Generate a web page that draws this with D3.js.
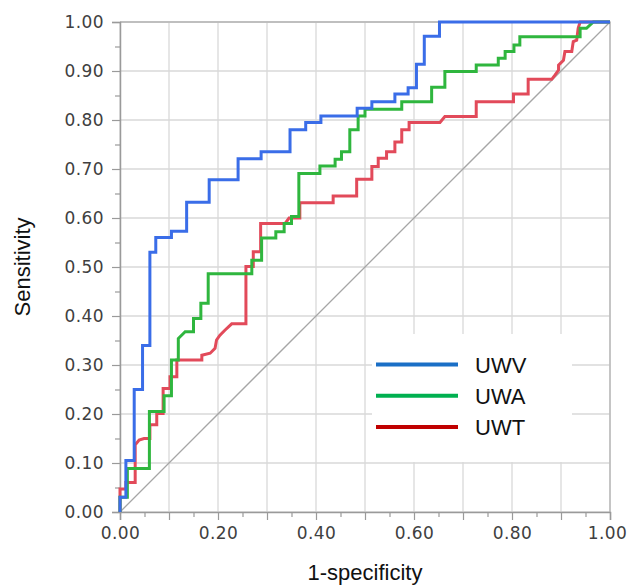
<!DOCTYPE html>
<html>
<head>
<meta charset="utf-8">
<script src="https://cdn.jsdelivr.net/npm/d3@7"></script>
<style>
  body { margin: 0; background: #fff; }
  svg { display: block; }
</style>
</head>
<body>
<div id="container"></div>
<script>
// ROC points (1-specificity, sensitivity)
let uwvX = [0, 0, 0.012, 0.012, 0.029, 0.029, 0.046, 0.046, 0.061, 0.061, 0.073, 0.073, 0.105, 0.105, 0.136, 0.136, 0.182, 0.182, 0.241, 0.241, 0.288, 0.288, 0.347, 0.347, 0.379, 0.379, 0.41, 0.41, 0.484, 0.484, 0.514, 0.514, 0.561, 0.561, 0.588, 0.588, 0.605, 0.605, 0.621, 0.621, 0.652, 0.652, 1];
let uwvY = [0, 0.03, 0.03, 0.105, 0.105, 0.25, 0.25, 0.34, 0.34, 0.53, 0.53, 0.56, 0.56, 0.573, 0.573, 0.632, 0.632, 0.678, 0.678, 0.721, 0.721, 0.735, 0.735, 0.78, 0.78, 0.795, 0.795, 0.808, 0.808, 0.824, 0.824, 0.837, 0.837, 0.853, 0.853, 0.866, 0.866, 0.914, 0.914, 0.971, 0.971, 1, 1];

let uwaX = [0, 0, 0.015, 0.015, 0.06, 0.06, 0.09, 0.09, 0.105, 0.105, 0.119, 0.119, 0.133, 0.15, 0.15, 0.165, 0.165, 0.18, 0.18, 0.269, 0.269, 0.289, 0.289, 0.318, 0.318, 0.335, 0.335, 0.35, 0.35, 0.365, 0.365, 0.408, 0.408, 0.439, 0.439, 0.452, 0.452, 0.469, 0.469, 0.486, 0.486, 0.5, 0.5, 0.575, 0.575, 0.636, 0.636, 0.663, 0.663, 0.727, 0.727, 0.772, 0.772, 0.786, 0.786, 0.804, 0.804, 0.816, 0.816, 0.939, 0.939, 0.952, 0.966, 1];
let uwaY = [0, 0.03, 0.03, 0.089, 0.089, 0.205, 0.205, 0.237, 0.237, 0.31, 0.31, 0.354, 0.368, 0.368, 0.395, 0.395, 0.426, 0.426, 0.486, 0.486, 0.514, 0.514, 0.559, 0.559, 0.572, 0.572, 0.589, 0.589, 0.603, 0.603, 0.691, 0.691, 0.706, 0.706, 0.72, 0.72, 0.735, 0.735, 0.78, 0.78, 0.808, 0.808, 0.822, 0.822, 0.837, 0.837, 0.867, 0.867, 0.899, 0.899, 0.912, 0.912, 0.926, 0.926, 0.94, 0.94, 0.953, 0.953, 0.97, 0.97, 0.987, 0.987, 1, 1];

let uwtX = [0, 0, 0.012, 0.012, 0.022, 0.031, 0.031, 0.039, 0.049, 0.061, 0.061, 0.075, 0.075, 0.088, 0.088, 0.102, 0.102, 0.116, 0.116, 0.167, 0.167, 0.184, 0.194, 0.197, 0.204, 0.214, 0.228, 0.257, 0.257, 0.272, 0.272, 0.287, 0.287, 0.337, 0.345, 0.367, 0.367, 0.435, 0.435, 0.483, 0.483, 0.514, 0.514, 0.527, 0.527, 0.544, 0.544, 0.561, 0.561, 0.575, 0.575, 0.59, 0.59, 0.653, 0.663, 0.727, 0.727, 0.803, 0.803, 0.833, 0.833, 0.881, 0.888, 0.895, 0.895, 0.905, 0.908, 0.922, 0.925, 0.932, 0.935, 0.939, 1];
let uwtY = [0, 0.047, 0.047, 0.06, 0.06, 0.06, 0.137, 0.147, 0.15, 0.15, 0.178, 0.178, 0.201, 0.201, 0.252, 0.252, 0.276, 0.276, 0.31, 0.31, 0.32, 0.324, 0.334, 0.351, 0.361, 0.371, 0.384, 0.384, 0.501, 0.501, 0.531, 0.531, 0.589, 0.589, 0.6, 0.6, 0.631, 0.631, 0.645, 0.645, 0.679, 0.679, 0.705, 0.705, 0.722, 0.722, 0.735, 0.735, 0.755, 0.755, 0.78, 0.78, 0.795, 0.795, 0.807, 0.807, 0.837, 0.837, 0.853, 0.853, 0.883, 0.883, 0.892, 0.902, 0.912, 0.922, 0.94, 0.94, 0.96, 0.963, 0.987, 1, 1];

let seriesNames = ["UWV", "UWA", "UWT"];
let xTickLabels = ["0.00", "0.20", "0.40", "0.60", "0.80", "1.00"];
let yTickLabels = ["0.00", "0.10", "0.20", "0.30", "0.40", "0.50", "0.60", "0.70", "0.80", "0.90", "1.00"];

let curveColors = ["#3a6de8", "#2fb63e", "#e24a5a"];
let legendColors = ["#1b6fc6", "#00b050", "#c00000"];

let w = 629;
let h = 586;
let plotLeft = 120, plotTop = 22, size = 490;

let viz = d3.select("#container")
  .append("svg")
    .attr("width", w)
    .attr("height", h)
    .style("background-color", "white")
;

let xScale = d3.scaleLinear().domain([0, 1]).range([plotLeft, plotLeft + size]);
let yScale = d3.scaleLinear().domain([0, 1]).range([plotTop + size, plotTop]);

// grid every 0.1
let gridVals = d3.range(0, 11).map(function(i){ return i / 10; });
viz.append("g").selectAll("line").data(gridVals).enter()
  .append("line")
    .attr("x1", function(d){ return xScale(d); })
    .attr("x2", function(d){ return xScale(d); })
    .attr("y1", plotTop)
    .attr("y2", plotTop + size)
    .attr("stroke", "#d9d9d9")
    .attr("stroke-width", 1.3)
;
viz.append("g").selectAll("line").data(gridVals).enter()
  .append("line")
    .attr("y1", function(d){ return yScale(d); })
    .attr("y2", function(d){ return yScale(d); })
    .attr("x1", plotLeft)
    .attr("x2", plotLeft + size)
    .attr("stroke", "#d9d9d9")
    .attr("stroke-width", 1.3)
;
// top + right frame
viz.append("path")
  .attr("d", "M" + plotLeft + "," + plotTop + "H" + (plotLeft + size) + "V" + (plotTop + size))
  .attr("fill", "none")
  .attr("stroke", "#b4b4b4")
  .attr("stroke-width", 1.3)
;

// axes: major ticks every 0.1, minor every 0.05
let tickFont = "'DejaVu Sans', Verdana, sans-serif";
let yAxis = viz.append("g")
  .attr("transform", "translate(" + plotLeft + ",0)")
  .call(d3.axisLeft(yScale).tickValues(d3.range(0, 21).map(function(i){ return i / 20; }))
    .tickSize(8).tickFormat(function(d, i){ return i % 2 === 0 ? yTickLabels[i / 2] : ""; }));
let xAxis = viz.append("g")
  .attr("transform", "translate(0," + (plotTop + size) + ")")
  .call(d3.axisBottom(xScale).tickValues(d3.range(0, 21).map(function(i){ return i / 20; }))
    .tickSize(8).tickFormat(function(d, i){ return i % 4 === 0 ? xTickLabels[i / 4] : ""; }));

[xAxis, yAxis].forEach(function(ax){
  ax.select(".domain").attr("stroke", "#9a9a9a").attr("stroke-width", 1.5);
  ax.selectAll(".tick line").attr("stroke", "#9a9a9a").attr("stroke-width", 1.2);
  ax.selectAll(".tick text")
    .attr("fill", "#404040")
    .style("font-family", tickFont)
    .style("font-size", "17px")
    .style("letter-spacing", "0.4px");
});
// minor ticks shorter
yAxis.selectAll(".tick line").attr("x2", function(d, i){ return i % 2 === 0 ? -8 : -5; });
yAxis.selectAll(".tick text").attr("x", -16);
xAxis.selectAll(".tick line").attr("y2", function(d, i){ return i % 2 === 0 ? 8 : 5; });
xAxis.selectAll(".tick text").attr("y", 15);
// last x label nudged left so it stays inside the page
xAxis.selectAll(".tick text").filter(function(d){ return d === 1; }).attr("dx", -3);

// diagonal reference
viz.append("line")
  .attr("x1", xScale(0)).attr("y1", yScale(0))
  .attr("x2", xScale(1)).attr("y2", yScale(1))
  .attr("stroke", "#a6a6a6")
  .attr("stroke-width", 1.3)
;

// curves
let series = [
  { name: seriesNames[0], xs: uwvX, ys: uwvY },
  { name: seriesNames[1], xs: uwaX, ys: uwaY },
  { name: seriesNames[2], xs: uwtX, ys: uwtY }
];
let line = d3.line()
  .x(function(d){ return xScale(d[0]); })
  .y(function(d){ return yScale(d[1]); });

// draw red first, blue on top
[2, 1, 0].forEach(function(k){
  let s = series[k];
  let pts = s.xs.map(function(x, i){ return [x, s.ys[i]]; });
  viz.append("path")
    .datum(pts)
    .attr("d", line)
    .attr("fill", "none")
    .attr("stroke", curveColors[k])
    .attr("stroke-width", 3)
    .attr("stroke-linejoin", "miter")
  ;
});

// legend
let legend = viz.append("g");
legend.append("rect")
  .attr("x", 372).attr("y", 334)
  .attr("width", 200).attr("height", 128)
  .attr("fill", "white");
let legendRows = legend.selectAll(".row").data(seriesNames).enter()
  .append("g")
    .attr("class", "row")
    .attr("transform", function(d, i){ return "translate(376," + (364.5 + i * 31.2) + ")"; });
legendRows.append("line")
  .attr("x1", 0).attr("x2", 82)
  .attr("stroke", function(d, i){ return legendColors[i]; })
  .attr("stroke-width", 4);
legendRows.append("text")
  .attr("x", 99).attr("y", 8)
  .text(function(d){ return d; })
  .style("font-family", "'Liberation Sans', Arial, sans-serif")
  .style("font-size", "22px")
  .attr("fill", "#111");

// axis titles
viz.append("text")
  .attr("x", plotLeft + size / 2).attr("y", 580)
  .attr("text-anchor", "middle")
  .text("1-specificity")
  .style("font-family", "'Liberation Sans', Arial, sans-serif")
  .style("font-size", "22px")
  .attr("fill", "#111");
viz.append("text")
  .attr("transform", "translate(30," + (plotTop + size / 2) + ") rotate(-90)")
  .attr("text-anchor", "middle")
  .text("Sensitivity")
  .style("font-family", "'Liberation Sans', Arial, sans-serif")
  .style("font-size", "22px")
  .attr("fill", "#111");
</script>
</body>
</html>
